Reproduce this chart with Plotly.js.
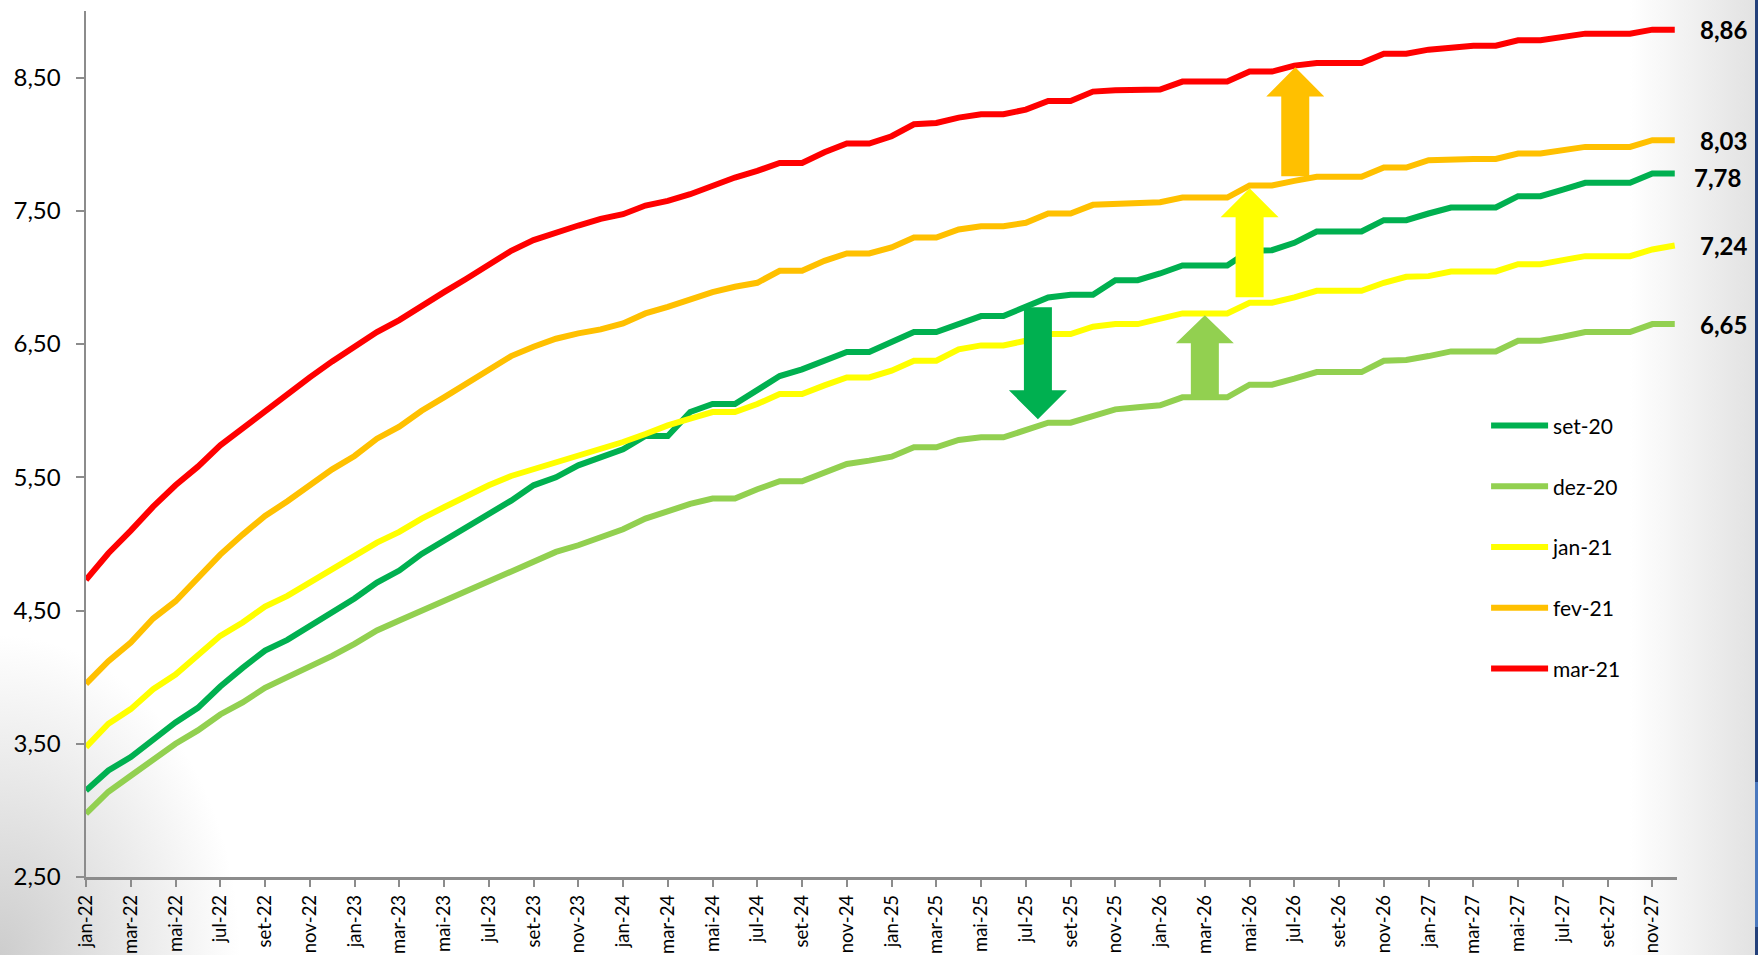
<!DOCTYPE html>
<html>
<head>
<meta charset="utf-8">
<script src="https://cdn.plot.ly/plotly-3.0.1.min.js"></script>
<style>
html,body{margin:0;padding:0;width:1758px;height:955px;overflow:hidden;}
body{background:
 linear-gradient(to right, rgba(255,255,255,0) 1630px, rgba(226,226,226,1) 1755px),
 radial-gradient(ellipse 240px 320px at 0px 955px, rgba(205,205,205,1), rgba(255,255,255,0)),
 #ffffff;}
#chart{position:absolute;left:0;top:0;width:1758px;height:955px;}
#edge{position:absolute;right:0;top:0;width:3px;height:955px;
 background:linear-gradient(to bottom,#23407a 0,#23407a 782px,#4a78be 782px,#4a78be 927px,#23407a 927px);}
</style>
</head>
<body>
<div id="chart"></div>
<div id="edge"></div>
<script>
// ---- data ----
const months = [
 'jan-22','fev-22','mar-22','abr-22','mai-22','jun-22','jul-22','ago-22','set-22','out-22','nov-22','dez-22',
 'jan-23','fev-23','mar-23','abr-23','mai-23','jun-23','jul-23','ago-23','set-23','out-23','nov-23','dez-23',
 'jan-24','fev-24','mar-24','abr-24','mai-24','jun-24','jul-24','ago-24','set-24','out-24','nov-24','dez-24',
 'jan-25','fev-25','mar-25','abr-25','mai-25','jun-25','jul-25','ago-25','set-25','out-25','nov-25','dez-25',
 'jan-26','fev-26','mar-26','abr-26','mai-26','jun-26','jul-26','ago-26','set-26','out-26','nov-26','dez-26',
 'jan-27','fev-27','mar-27','abr-27','mai-27','jun-27','jul-27','ago-27','set-27','out-27','nov-27','dez-27'
];

const set20 = [3.15,3.30,3.40,3.53,3.66,3.77,3.93,4.07,4.20,4.28,4.38,4.49,
 4.59,4.71,4.80,4.925,5.025,5.125,5.225,5.325,5.44,5.50,5.59,5.65,
 5.71,5.81,5.81,5.99,6.05,6.05,6.15,6.26,6.31,6.375,6.44,6.44,
 6.51,6.59,6.59,6.65,6.71,6.71,6.78,6.85,6.87,6.87,6.98,6.98,
 7.03,7.09,7.09,7.09,7.20,7.205,7.26,7.345,7.345,7.345,7.43,7.43,
 7.48,7.525,7.525,7.525,7.61,7.61,7.66,7.71,7.71,7.71,7.78,7.78];

const dez20 = [2.975,3.14,3.26,3.38,3.50,3.60,3.72,3.81,3.92,4.00,4.075,4.16,
 4.25,4.35,4.425,4.50,4.575,4.65,4.725,4.80,4.875,4.94,4.99,5.05,
 5.11,5.19,5.25,5.30,5.34,5.34,5.41,5.47,5.47,5.54,5.60,5.625,
 5.655,5.725,5.725,5.78,5.80,5.80,5.85,5.91,5.91,5.96,6.01,6.025,
 6.04,6.10,6.10,6.10,6.195,6.195,6.24,6.29,6.29,6.29,6.375,6.38,
 6.41,6.445,6.445,6.445,6.525,6.525,6.555,6.59,6.59,6.59,6.65,6.65];

const jan21 = [3.475,3.65,3.76,3.91,4.02,4.16,4.31,4.41,4.53,4.61,4.71,4.81,
 4.90,5.01,5.09,5.19,5.275,5.36,5.44,5.51,5.56,5.61,5.66,5.71,
 5.765,5.825,5.89,5.94,5.99,5.99,6.05,6.125,6.125,6.19,6.25,6.25,
 6.30,6.375,6.375,6.46,6.49,6.49,6.525,6.575,6.575,6.63,6.65,6.65,
 6.685,6.73,6.73,6.73,6.81,6.81,6.85,6.90,6.90,6.90,6.96,7.005,
 7.01,7.045,7.045,7.045,7.10,7.10,7.13,7.16,7.16,7.16,7.21,7.24];

const fev21 = [3.95,4.12,4.26,4.44,4.57,4.74,4.92,5.07,5.21,5.32,5.44,5.56,
 5.66,5.79,5.88,6.00,6.10,6.20,6.31,6.41,6.48,6.54,6.58,6.61,
 6.655,6.73,6.78,6.84,6.89,6.93,6.96,7.05,7.05,7.125,7.18,7.18,
 7.225,7.30,7.30,7.36,7.385,7.385,7.41,7.48,7.48,7.545,7.555,7.555,
 7.565,7.60,7.60,7.60,7.69,7.69,7.725,7.755,7.755,7.755,7.825,7.825,
 7.88,7.89,7.89,7.89,7.93,7.93,7.96,7.98,7.98,7.98,8.03,8.03];

const mar21 = [4.73,4.93,5.10,5.28,5.44,5.58,5.74,5.87,6.00,6.13,6.25,6.37,
 6.48,6.59,6.68,6.79,6.89,6.99,7.10,7.20,7.28,7.34,7.39,7.44,
 7.475,7.54,7.575,7.625,7.69,7.75,7.80,7.86,7.86,7.94,8.005,8.005,
 8.06,8.15,8.16,8.20,8.225,8.225,8.26,8.325,8.325,8.395,8.405,8.405,
 8.41,8.47,8.47,8.47,8.545,8.545,8.59,8.61,8.61,8.61,8.68,8.68,
 8.71,8.73,8.74,8.74,8.78,8.78,8.81,8.83,8.83,8.83,8.86,8.86];

const seriesNames = ['set-20','dez-20','jan-21','fev-21','mar-21'];
const seriesData = [set20, dez20, jan21, fev21, mar21];

// ---- styles ----
const colors = ['#00B050','#92D050','#FFFF00','#FFC000','#FF0000'];
const FONT = 'Lato, "Open Sans", "DejaVu Sans", sans-serif';
const idx = months.map((m,i)=>i);

const traces = seriesData.map((vals,k)=>({
  type:'scatter', mode:'lines', name:seriesNames[k],
  x: idx, y: vals,
  line:{color:colors[k], width:6},
  legendgroup:'g'+k,
  hoverinfo:'skip'
}));

// axis geometry (for arrow sizes expressed in pixels)
const W=1758, H=955, ML=86, MR=81, MT=11, MB=78;
const xRange=[0,71.1], yRange=[2.5,9.0];
const pxPerX=(W-ML-MR)/(xRange[1]-xRange[0]);

function arrowPath(cx, yStart, yHeadBase, yTip, shaftPx, headPx){
  const sw=shaftPx/2/pxPerX, hw=headPx/2/pxPerX;
  return 'M'+(cx-sw)+','+yStart+' L'+(cx+sw)+','+yStart+' L'+(cx+sw)+','+yHeadBase+
         ' L'+(cx+hw)+','+yHeadBase+' L'+cx+','+yTip+' L'+(cx-hw)+','+yHeadBase+
         ' L'+(cx-sw)+','+yHeadBase+' Z';
}
const arrows = [
  {cx:42.54, y0:6.776, yb:6.153, yt:5.936, color:'#00B050'},
  {cx:50.0,  y0:6.10,  yb:6.506, yt:6.716, color:'#92D050'},
  {cx:52.0,  y0:6.851, yb:7.451, yt:7.669, color:'#FFFF00'},
  {cx:54.04, y0:7.759, yb:8.359, yt:8.577, color:'#FFC000'}
];
const shapes = arrows.map(a=>({
  type:'path', xref:'x', yref:'y', layer:'above',
  path: arrowPath(a.cx, a.y0, a.yb, a.yt, 28, 58),
  fillcolor:a.color, line:{width:0}
}));

const fmt = v => v.toFixed(2).replace('.',',');
const labelShift = [{x:17,y:-4},{x:23,y:0},{x:23,y:0},{x:23,y:0},{x:23,y:0}];
const annotations = seriesData.map((vals,k)=>({
  x: idx[idx.length-1], y: vals[vals.length-1], xref:'x', yref:'y',
  text: fmt(vals[vals.length-1]), showarrow:false,
  xanchor:'left', yanchor:'middle', xshift:labelShift[k].x, yshift:labelShift[k].y,
  font:{family:FONT, size:24, color:'#000000', weight:'bold'}
}));

const tickIdx = idx.filter(i=>i%2===0);
const layout = {
  width:W, height:H,
  margin:{l:ML, r:MR, t:MT, b:MB, pad:0},
  paper_bgcolor:'rgba(0,0,0,0)', plot_bgcolor:'rgba(0,0,0,0)',
  separators:',.',
  font:{family:FONT, color:'#000000'},
  showlegend:true,
  legend:{x:0.880, y:0.5445, xanchor:'left', yanchor:'top',
    font:{family:FONT, size:21, color:'#000000'},
    bgcolor:'rgba(0,0,0,0)', tracegroupgap:30.4, itemwidth:57},
  xaxis:{range:xRange, showgrid:false, zeroline:false,
    showline:true, linecolor:'#8c8c8c', linewidth:2.5,
    ticks:'outside', ticklen:7, tickwidth:2, tickcolor:'#8c8c8c',
    tickvals:tickIdx, ticktext:tickIdx.map(i=>months[i]),
    tickangle:-90, tickfont:{family:FONT, size:18.5, color:'#000000'},
    ticklabelstandoff:1, fixedrange:true},
  yaxis:{range:yRange, showgrid:false, zeroline:false,
    showline:true, linecolor:'#8c8c8c', linewidth:2.5,
    ticks:'outside', ticklen:8, tickwidth:2, tickcolor:'#8c8c8c',
    tick0:2.5, dtick:1, tickformat:'.2f',
    tickfont:{family:FONT, size:24, color:'#000000'},
    ticklabelstandoff:10, fixedrange:true},
  shapes:shapes,
  annotations:annotations
};

Plotly.newPlot('chart', traces, layout, {displayModeBar:false, staticPlot:true});
</script>
</body>
</html>
